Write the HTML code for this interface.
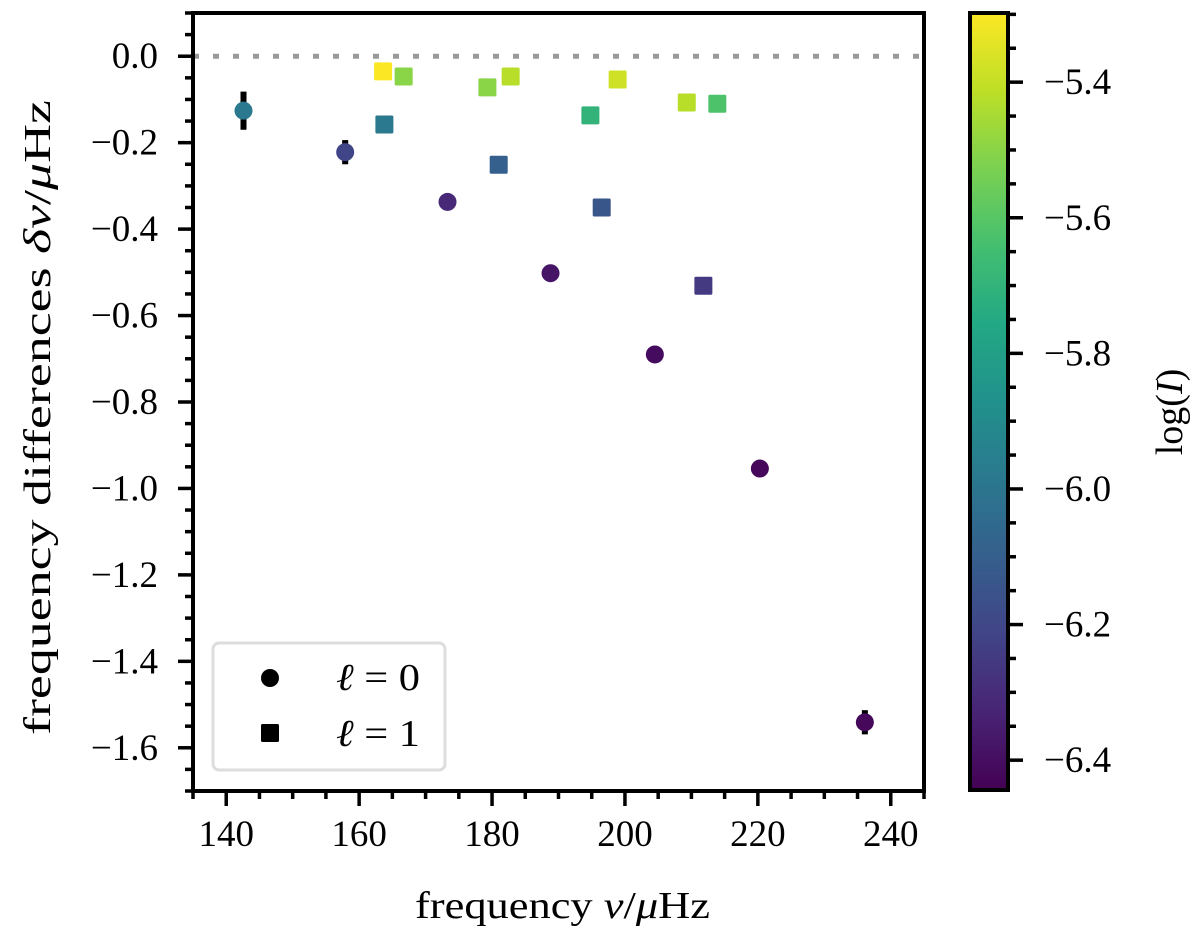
<!DOCTYPE html>
<html><head><meta charset="utf-8"><style>
body{margin:0;background:#fff}
svg{display:block;font-family:"Liberation Serif","DejaVu Serif",serif}
</style></head><body>
<svg id="chart" width="1200" height="938" viewBox="0 0 1200 938" xmlns="http://www.w3.org/2000/svg">
<defs>
<linearGradient id="vir" x1="0" y1="1" x2="0" y2="0"></linearGradient>
</defs>
<g id="plot"></g>
</svg>
<script>
// Data
const l0Freq = [142.6, 157.9, 173.3, 188.8, 204.5, 220.3, 236.1];
const l0Diff = [-0.126, -0.222, -0.337, -0.502, -0.690, -0.954, -1.541];
const l0Err  = [0.044, 0.028, 0.01, 0.01, 0.01, 0.012, 0.028];
const l0LogI = [-5.98, -6.21, -6.31, -6.38, -6.41, -6.42, -6.42];
const l1Freq = [163.6, 163.8, 166.7, 179.3, 182.8, 181.0, 194.8, 198.9, 196.5, 209.3, 213.9, 211.8];
const l1Diff = [-0.035, -0.158, -0.047, -0.072, -0.047, -0.251, -0.137, -0.054, -0.350, -0.107, -0.110, -0.531];
const l1Err  = [0.02, 0.015, 0.01, 0.005, 0.005, 0.005, 0.005, 0.005, 0.005, 0.005, 0.005, 0.005];
const l1LogI = [-5.30, -5.98, -5.50, -5.50, -5.42, -6.10, -5.70, -5.38, -6.14, -5.42, -5.62, -6.25];
const xTicks = [140, 160, 180, 200, 220, 240];
const yTicks = [0.0, -0.2, -0.4, -0.6, -0.8, -1.0, -1.2, -1.4, -1.6];
const cTicks = [-5.4, -5.6, -5.8, -6.0, -6.2, -6.4];

const X0=193, X1=924, Y0=13, Y1=791;
const xmin=135, xmax=245, ymin=-1.7, ymax=0.1;
const cmin=-6.444, cmax=-5.298, CY0=13, CY1=790, CX0=968, CX1=1010;
const xs = v => X0 + (v - xmin) / (xmax - xmin) * (X1 - X0);
const ys = v => Y1 - (v - ymin) / (ymax - ymin) * (Y1 - Y0);
const cs = v => CY1 - (v - cmin) / (cmax - cmin) * (CY1 - CY0);

const vstops = ["#440154","#482475","#414487","#355f8d","#2a788e","#21918c","#22a884","#44bf70","#7ad151","#bddf26","#fde725"];
function hex(h){return [1,3,5].map(i=>parseInt(h.substr(i,2),16));}
function viridis(t){t=Math.max(0,Math.min(1,t));const p=t*(vstops.length-1);const i=Math.min(Math.floor(p),vstops.length-2);const f=p-i;const a=hex(vstops[i]),b=hex(vstops[i+1]);return "rgb("+a.map((c,k)=>Math.round(c+(b[k]-c)*f)).join(",")+")";}
const col = v => viridis((v - cmin)/(cmax - cmin));

const NS="http://www.w3.org/2000/svg";
const svg=document.getElementById('chart'), g=document.getElementById('plot');
function mk(tag, attrs, parent){const e=document.createElementNS(NS,tag);for(const k in attrs)e.setAttribute(k,attrs[k]);(parent||g).appendChild(e);return e;}

const grad=document.getElementById('vir');
vstops.forEach((c,i)=>{mk('stop',{offset:(i/(vstops.length-1)*100)+'%','stop-color':c},grad);});

let zl=mk('line',{x1:X0,x2:X1,y1:ys(0),y2:ys(0),stroke:'#999',"stroke-width":5,"stroke-dasharray":"6 14"});



function drawPt(x,y,e,c,shape,i){
  const px=xs(x),py=ys(y);
  const eb=mk('line',{x1:px,x2:px,y1:ys(y+e),y2:ys(y-e),stroke:'#000',"stroke-width":6});
  
  
  let m;
  if(shape==='c'){m=mk('circle',{cx:px,cy:py,r:9,fill:c});}
  else{m=mk('rect',{x:px-9,y:py-9,width:18,height:18,rx:1.5,fill:c});}
  
  
}
l0Freq.forEach((f,i)=>drawPt(f,l0Diff[i],l0Err[i],col(l0LogI[i]),'c',i));
l1Freq.forEach((f,i)=>drawPt(f,l1Diff[i],l1Err[i],col(l1LogI[i]),'s',i));

let fr=mk('rect',{x:X0,y:Y0,width:X1-X0,height:Y1-Y0,fill:'none',stroke:'#000',"stroke-width":4});



for(let v=135;v<=245;v+=5){const major=v%20===0;mk('line',{x1:xs(v),x2:xs(v),y1:Y1,y2:Y1+(major?15:8),stroke:'#000',"stroke-width":3.5});}
xTicks.forEach(v=>{const t=mk('text',{x:xs(v),y:Y1+55,"text-anchor":"middle","font-size":37});t.textContent=v;

});
for(let k=-34;k<=2;k++){const v=k*0.05;const major=(k%4===0);mk('line',{x1:X0,x2:X0-(major?15:8),y1:ys(v),y2:ys(v),stroke:'#000',"stroke-width":3.5});}
yTicks.forEach(v=>{const t=mk('text',{x:158,y:ys(v)+12,"text-anchor":"end","font-size":37});t.textContent=(v===0?"0.0":"\u2212"+Math.abs(v).toFixed(1));

});

let xt=mk('text',{x:415,y:918,"font-size":38,textLength:295,lengthAdjust:"spacingAndGlyphs"});
xt.innerHTML='frequency <tspan font-style="italic">ν</tspan>/<tspan font-style="italic">μ</tspan>Hz';


let yt=mk('text',{x:0,y:0,"font-size":38,textLength:635,lengthAdjust:"spacingAndGlyphs",transform:"translate(50,735) rotate(-90)"});
yt.innerHTML='frequency differences <tspan font-style="italic">δν</tspan>/<tspan font-style="italic">μ</tspan>Hz';



let lg=mk('rect',{x:213,y:643,width:232,height:127,rx:6,fill:'#fff',stroke:'#ddd',"stroke-width":3});


let lc=mk('circle',{cx:270,cy:678,r:9,fill:'#000'});


let ls=mk('rect',{x:261,y:724,width:18,height:18,rx:1.5,fill:'#000'});


let l0t=mk('text',{x:336,y:690,"font-size":38,textLength:84,lengthAdjust:"spacingAndGlyphs"});l0t.innerHTML='<tspan font-style="italic">ℓ</tspan> = 0';


let l1t=mk('text',{x:336,y:746,"font-size":38,textLength:84,lengthAdjust:"spacingAndGlyphs"});l1t.innerHTML='<tspan font-style="italic">ℓ</tspan> = 1';



let cb=mk('rect',{x:CX0+2,y:CY0,width:CX1-CX0-4,height:CY1-CY0,fill:'url(#vir)',stroke:'#000',"stroke-width":4});


for(let k=-129;k<=-106;k++){const v=k*0.05;if(v<cmin||v>cmax)continue;const major=(k%4===0);mk('line',{x1:CX1-2,x2:CX1-2+(major?15:8),y1:cs(v),y2:cs(v),stroke:'#000',"stroke-width":3.5});}
cTicks.forEach(v=>{const t=mk('text',{x:1044,y:cs(v)+12,"font-size":37});t.textContent="\u2212"+Math.abs(v).toFixed(1);

});
let ct=mk('text',{x:0,y:0,"text-anchor":"middle","font-size":38,transform:"translate(1182,412) rotate(-90)"});
ct.innerHTML='log(<tspan font-style="italic">I</tspan>)';


</script>
</body></html>
